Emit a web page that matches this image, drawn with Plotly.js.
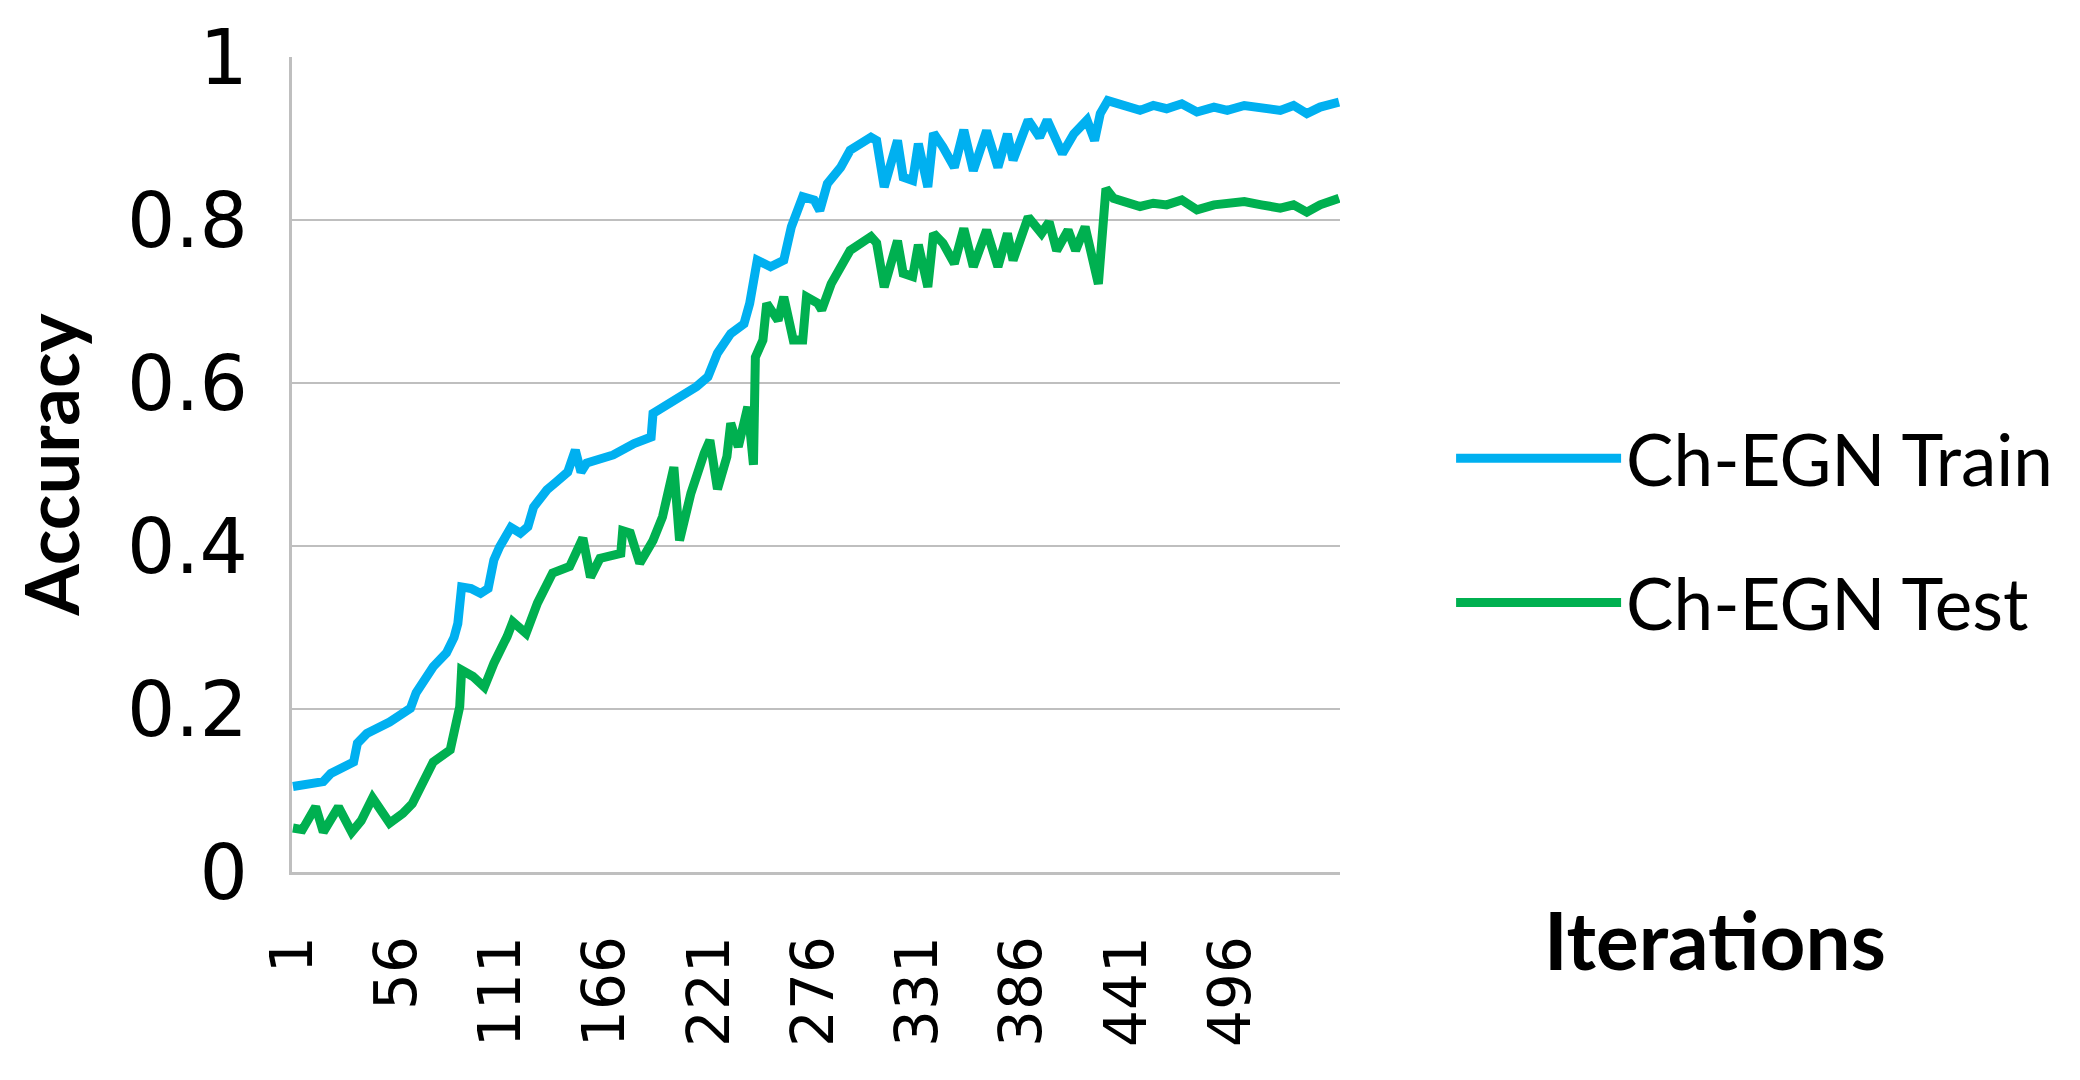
<!DOCTYPE html>
<html>
<head>
<meta charset="utf-8">
<script src="https://cdn.plot.ly/plotly-3.0.1.min.js"></script>
<style>
  html, body { margin: 0; padding: 0; background: #fff; }
  #chart { width: 2080px; height: 1080px; }
</style>
</head>
<body>
<div id="chart"></div>
<script>
var trainIter = [1, 17, 21, 33, 35, 40, 52, 63, 66, 70, 75, 82, 86, 88, 90, 95, 100, 104, 107, 110,
  116, 121, 125, 128, 135, 140, 146, 150, 153, 156, 170, 181, 190, 191, 200, 214, 220, 225, 232, 239,
  242, 246, 253, 260, 264, 270, 276, 279, 283, 290, 295, 306, 309, 313, 320, 323, 328, 331, 336, 339,
  344, 350, 355, 360, 367, 373, 378, 381, 389, 395, 399, 407, 413, 420, 424, 427, 431, 434, 441, 448,
  455, 462, 470, 478, 487, 494, 503, 512, 522, 529, 536, 543, 553];
var trainAcc = [0.105, 0.111, 0.121, 0.135, 0.158, 0.170, 0.184, 0.201, 0.220, 0.236, 0.252, 0.269, 0.288, 0.305, 0.350, 0.348, 0.342, 0.348, 0.383, 0.399,
  0.423, 0.416, 0.424, 0.448, 0.469, 0.479, 0.491, 0.518, 0.491, 0.502, 0.512, 0.526, 0.534, 0.563, 0.575, 0.596, 0.608, 0.637, 0.661, 0.673,
  0.698, 0.751, 0.743, 0.751, 0.792, 0.829, 0.825, 0.812, 0.845, 0.865, 0.886, 0.902, 0.898, 0.841, 0.898, 0.853, 0.849, 0.894, 0.841, 0.907,
  0.890, 0.865, 0.911, 0.861, 0.910, 0.865, 0.906, 0.874, 0.923, 0.902, 0.923, 0.882, 0.906, 0.923, 0.898, 0.931, 0.947, 0.945, 0.939, 0.935,
  0.941, 0.937, 0.943, 0.933, 0.939, 0.935, 0.941, 0.937, 0.935, 0.941, 0.931, 0.939, 0.945];

var testIter = [1, 6, 13, 17, 25, 32, 37, 43, 52, 59, 64, 70, 75, 84, 87, 89, 90, 96, 102, 107,
  114, 117, 124, 130, 138, 147, 154, 158, 163, 174, 175, 179, 184, 191, 196, 202, 205, 211, 218, 221,
  225, 230, 232, 236, 241, 244, 245, 249, 251, 257, 260, 265, 270, 272, 278, 280, 285, 290, 295, 306,
  309, 313, 320, 323, 328, 331, 336, 339, 344, 350, 355, 360, 367, 373, 378, 381, 389, 396, 400, 404,
  410, 414, 419, 426, 430, 434, 441, 448, 455, 462, 470, 478, 487, 494, 503, 512, 522, 529, 536, 543, 553];
var testAcc = [0.054, 0.052, 0.080, 0.049, 0.080, 0.049, 0.063, 0.091, 0.060, 0.072, 0.084, 0.113, 0.135, 0.150, 0.178, 0.203, 0.248, 0.240, 0.227, 0.256,
  0.289, 0.307, 0.293, 0.330, 0.367, 0.375, 0.410, 0.362, 0.385, 0.391, 0.419, 0.416, 0.379, 0.407, 0.436, 0.497, 0.407, 0.465, 0.514, 0.530,
  0.470, 0.510, 0.551, 0.522, 0.571, 0.500, 0.632, 0.653, 0.698, 0.677, 0.706, 0.653, 0.653, 0.706, 0.698, 0.690, 0.722, 0.743, 0.763, 0.780,
  0.772, 0.718, 0.775, 0.735, 0.731, 0.770, 0.718, 0.784, 0.772, 0.747, 0.790, 0.743, 0.788, 0.743, 0.784, 0.751, 0.804, 0.784, 0.798, 0.763,
  0.788, 0.763, 0.792, 0.722, 0.839, 0.827, 0.821, 0.817, 0.821, 0.819, 0.825, 0.813, 0.819, 0.821, 0.823, 0.819, 0.815, 0.819, 0.810, 0.819, 0.827];

var tickIters = [1, 56, 111, 166, 221, 276, 331, 386, 441, 496];
var tickLabels = tickIters.map(String);

var trainColor = '#00b0f0';
var testColor = '#00b050';
var gridGray = '#bfbfbf';

var data = [{
  x: trainIter,
  y: trainAcc,
  name: 'Ch-EGN Train',
  legendgroup: 'train',
  type: 'scatter',
  mode: 'lines',
  line: { color: trainColor, width: 9 }
}, {
  x: testIter,
  y: testAcc,
  name: 'Ch-EGN Test',
  legendgroup: 'test',
  type: 'scatter',
  mode: 'lines',
  line: { color: testColor, width: 9 }
}];

var layout = {
  width: 2080,
  height: 1080,
  paper_bgcolor: '#fff',
  plot_bgcolor: '#fff',
  margin: { l: 292, r: 740, t: 57, b: 208 },
  showlegend: true,
  legend: {
    x: 1.106,
    y: 0.419,
    xanchor: 'left',
    yanchor: 'middle',
    traceorder: 'grouped',
    tracegroupgap: 49,
    itemwidth: 165,
    font: { family: 'Lato, sans-serif', size: 71, color: '#000' }
  },
  xaxis: {
    range: [0.5, 553.5],
    tickmode: 'array',
    tickvals: tickIters,
    ticktext: tickLabels,
    tickangle: -90,
    ticks: '',
    ticklabelstandoff: 38,
    showgrid: false,
    zeroline: false,
    showline: true,
    linecolor: gridGray,
    linewidth: 3,
    tickfont: { family: 'DejaVu Sans, sans-serif', size: 58, color: '#000' }
  },
  yaxis: {
    range: [0, 1.0005],
    tick0: 0,
    dtick: 0.2,
    ticks: '',
    ticklabelstandoff: 26,
    showgrid: true,
    gridcolor: gridGray,
    gridwidth: 2,
    zeroline: false,
    showline: true,
    linecolor: gridGray,
    linewidth: 3,
    tickfont: { family: 'DejaVu Sans, sans-serif', size: 76, color: '#000' },
    title: {
      text: '<b>Accuracy</b>',
      standoff: 24,
      font: { family: 'Lato, sans-serif', size: 74, color: '#000' }
    }
  },
  annotations: [{
    text: '<b>Iterations</b>',
    xref: 'paper',
    yref: 'paper',
    x: 1.358,
    y: -0.082,
    xanchor: 'center',
    yanchor: 'middle',
    showarrow: false,
    font: { family: 'Lato, sans-serif', size: 80, color: '#000' }
  }]
};

Plotly.newPlot('chart', data, layout, { displayModeBar: false, staticPlot: true });
</script>
</body>
</html>
